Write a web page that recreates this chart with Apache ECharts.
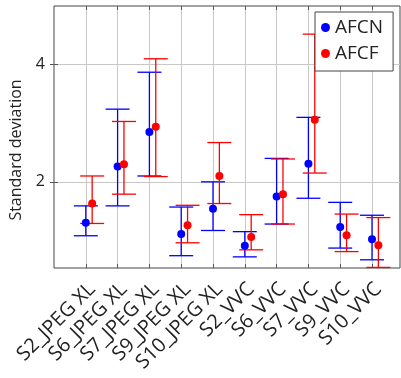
<!DOCTYPE html>
<html>
<head>
<meta charset="utf-8">
<script src="https://cdn.jsdelivr.net/npm/echarts@6/dist/echarts.min.js"></script>
<style>
  html, body { margin: 0; padding: 0; background: #fff; }
  #chart { width: 401px; height: 378px; }
</style>
</head>
<body>
<div id="chart"></div>
<script>
// categories on the x axis (placed at 1..10)
const categories = ['S2_JPEG XL', 'S6_JPEG XL', 'S7_JPEG XL', 'S9_JPEG XL', 'S10_JPEG XL',
  'S2_VVC', 'S6_VVC', 'S7_VVC', 'S9_VVC', 'S10_VVC'];
const catPos = [1, 2, 3, 4, 5, 6, 7, 8, 9, 10];
const yTicks = [2, 4];

// AFCN: mean, lower and upper error bar ends
const afcnMean = [1.30, 2.26, 2.85, 1.11, 1.54, 0.91, 1.75, 2.31, 1.23, 1.02];
const afcnLow = [1.08, 1.59, 2.10, 0.74, 1.17, 0.72, 1.28, 1.72, 0.87, 0.67];
const afcnHigh = [1.59, 3.24, 3.87, 1.57, 2.00, 1.15, 2.40, 3.10, 1.65, 1.43];

// AFCF
const afcfMean = [1.63, 2.30, 2.94, 1.26, 2.10, 1.06, 1.79, 3.06, 1.09, 0.92];
const afcfLow = [1.29, 1.79, 2.09, 0.96, 1.63, 0.84, 1.28, 2.15, 0.81, 0.54];
const afcfHigh = [2.10, 3.03, 4.10, 1.60, 2.67, 1.44, 2.39, 4.52, 1.45, 1.39];

const FONT = '"Open Sans", "Noto Sans", sans-serif';
const BLUE = '#0000ff';
const RED = '#ff0000';

const errorBars = (name, color, shift, low, high) => ({
  name: name,
  type: 'custom',
  data: catPos.map((x, i) => [x, low[i], high[i]]),
  renderItem(params, api) {
    const x = api.value(0) + shift;
    const lo = api.coord([x, api.value(1)]);
    const hi = api.coord([x, api.value(2)]);
    const cap = 12;
    const style = { stroke: color, lineWidth: 1.3 };
    return {
      type: 'group',
      children: [
        { type: 'line', shape: { x1: lo[0], y1: lo[1], x2: hi[0], y2: hi[1] }, style },
        { type: 'line', shape: { x1: lo[0] - cap, y1: lo[1], x2: lo[0] + cap, y2: lo[1] }, style },
        { type: 'line', shape: { x1: hi[0] - cap, y1: hi[1], x2: hi[0] + cap, y2: hi[1] }, style },
      ]
    };
  },
  encode: { x: 0, y: [1, 2] },
  z: 3,
  silent: true,
});

const dots = (name, color, shift, mean) => ({
  name: name,
  type: 'scatter',
  data: catPos.map((x, i) => [x + shift, mean[i]]),
  symbol: 'circle',
  symbolSize: 8,
  itemStyle: { color: color, opacity: 1 },
  z: 4,
});

const xRange = { min: 0, max: 10.88 };
const yRange = { min: 0.53, max: 5.0 };
// the rotated labels sit a little right of their tick, so they get their own shifted axis
const labelShift = 0.2;

const chart = echarts.init(document.getElementById('chart'));
chart.setOption({
  animation: false,
  textStyle: { fontFamily: FONT },
  grid: {
    left: 54, right: 1, top: 6, bottom: 110,
    show: true, borderColor: '#444', borderWidth: 1, backgroundColor: 'transparent'
  },
  legend: {
    data: ['AFCN', 'AFCF'],
    orient: 'vertical',
    left: 315, top: 12,
    padding: [6, 10, 8, 6],
    itemGap: 7,
    itemWidth: 9, itemHeight: 9,
    icon: 'circle',
    backgroundColor: '#fff',
    borderColor: '#444', borderWidth: 1,
    textStyle: { fontSize: 19, color: '#222', fontFamily: FONT },
  },
  xAxis: [{
    type: 'value', ...xRange,
    axisLine: { show: false },
    axisTick: { show: true, inside: true, length: 4, customValues: catPos, lineStyle: { color: '#555' } },
    splitLine: { show: true, lineStyle: { color: '#c8c8c8', width: 1 } },
    axisLabel: { show: false },
  }, {
    type: 'value', ...xRange, position: 'top',
    axisLine: { show: false },
    axisTick: { show: true, inside: true, length: 4, customValues: catPos, lineStyle: { color: '#555' } },
    splitLine: { show: false },
    axisLabel: { show: false },
  }, {
    type: 'value', min: xRange.min - labelShift, max: xRange.max - labelShift, position: 'bottom',
    axisLine: { show: false },
    axisTick: { show: false },
    splitLine: { show: false },
    axisLabel: {
      customValues: catPos,
      rotate: 45,
      margin: 18,
      fontSize: 20,
      color: '#222',
      fontFamily: FONT,
      formatter: (v) => categories[Math.round(v) - 1] || '',
    },
  }],
  yAxis: [{
    type: 'value', ...yRange,
    name: 'Standard deviation',
    nameLocation: 'middle',
    nameRotate: 90,
    nameGap: 30,
    nameTextStyle: { fontSize: 16, color: '#222', fontFamily: FONT, padding: [0, 26, 0, 0] },
    axisLine: { show: false },
    axisTick: { show: true, inside: true, length: 4, customValues: yTicks, lineStyle: { color: '#555' } },
    splitLine: { show: true, lineStyle: { color: '#c8c8c8', width: 1 } },
    axisLabel: { customValues: yTicks, fontSize: 16, color: '#222', margin: 9, fontFamily: FONT },
  }, {
    type: 'value', ...yRange, position: 'right',
    axisLine: { show: false },
    axisTick: { show: true, inside: true, length: 4, customValues: yTicks, lineStyle: { color: '#555' } },
    splitLine: { show: false },
    axisLabel: { show: false },
  }],
  series: [
    errorBars('AFCN err', BLUE, 0, afcnLow, afcnHigh),
    dots('AFCN', BLUE, 0, afcnMean),
    errorBars('AFCF err', RED, 0.2, afcfLow, afcfHigh),
    dots('AFCF', RED, 0.2, afcfMean),
  ],
});
</script>
</body>
</html>
